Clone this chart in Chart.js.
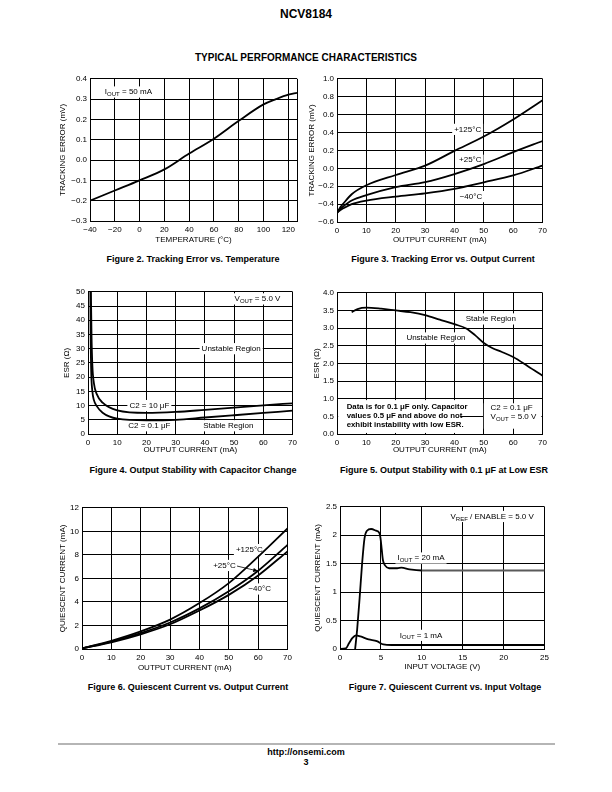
<!DOCTYPE html>
<html>
<head>
<meta charset="utf-8">
<script src="https://cdn.jsdelivr.net/npm/chart.js@4.4.0/dist/chart.umd.min.js"></script>
<style>
  body { margin: 0; background: #fff; width: 612px; height: 792px; position: relative; overflow: hidden;
         font-family: "Liberation Sans", Arial, sans-serif; }
  .t { position: absolute; font-weight: bold; white-space: nowrap; transform: translate(-50%, -50%); color: #000; }
  canvas { position: absolute; }
  .rule { position: absolute; left: 58px; top: 743px; width: 497px; height: 1.5px; background: #b5b5b5; }
</style>
</head>
<body>
<div class="t" style="left:306px;top:14px;font-size:12px">NCV8184</div>
<div class="t" style="left:306px;top:57px;font-size:10px">TYPICAL PERFORMANCE CHARACTERISTICS</div>
<div class="t" style="left:193px;top:259px;font-size:9px">Figure 2. Tracking Error vs. Temperature</div>
<div class="t" style="left:443px;top:259px;font-size:9px">Figure 3. Tracking Error vs. Output Current</div>
<div class="t" style="left:193px;top:470px;font-size:9px">Figure 4. Output Stability with Capacitor Change</div>
<div class="t" style="left:444px;top:470px;font-size:9px">Figure 5. Output Stability with 0.1 μF at Low ESR</div>
<div class="t" style="left:188px;top:687px;font-size:9px">Figure 6. Quiescent Current vs. Output Current</div>
<div class="t" style="left:445px;top:687px;font-size:9px">Figure 7. Quiescent Current vs. Input Voltage</div>
<div class="rule"></div>
<div class="t" style="left:306px;top:752px;font-size:9px">http://onsemi.com</div>
<div class="t" style="left:306px;top:762px;font-size:9px">3</div>

<script>
// Figure 2 - tracking error vs temperature
const f2Temp = [-40, -20, 0, 20, 40, 60, 80, 100, 110, 120, 127];
const f2Err  = [-0.2, -0.15, -0.1, -0.046, 0.032, 0.105, 0.193, 0.274, 0.3, 0.322, 0.331];
const f2TempTicks = [-40, -20, 0, 20, 40, 60, 80, 100, 120, 127];

// Figure 3 - tracking error vs output current
const f3Cur   = [0, 1, 2, 5, 10, 20, 30, 40, 50, 60, 70];
const f3T125  = [-0.5, -0.44, -0.4, -0.29, -0.19, -0.075, 0.03, 0.195, 0.355, 0.545, 0.76];
const f3T25   = [-0.5, -0.46, -0.43, -0.36, -0.3, -0.21, -0.155, -0.064, 0.047, 0.18, 0.305];
const f3Tm40  = [-0.49, -0.47, -0.45, -0.4, -0.36, -0.316, -0.28, -0.23, -0.157, -0.08, 0.03];

// Figure 4 - ESR stability
const f4Cur10  = [1.0, 1.2, 1.5, 2, 3, 5, 10, 20, 30, 40, 50, 60, 70];
const f4Esr10  = [50, 35, 24, 18, 14, 11, 8.3, 7.4, 7.75, 8.5, 9.3, 10.1, 10.8];
const f4Cur01  = [0.8, 0.9, 1.1, 1.5, 2, 3, 5, 10, 20, 30, 40, 50, 60, 70];
const f4Esr01  = [50, 35, 22, 15, 12, 9.8, 7.5, 5.4, 4.8, 5.0, 5.8, 6.6, 7.4, 8.2];

// Figure 5 - low ESR stability
const f5Cur = [5, 7, 10, 15, 20, 25, 30, 35, 40, 44, 47, 50, 53, 56, 60, 65, 70];
const f5Esr = [3.45, 3.54, 3.58, 3.55, 3.5, 3.45, 3.37, 3.24, 3.11, 2.99, 2.8, 2.58, 2.43, 2.33, 2.18, 1.92, 1.65];

// Figure 6 - quiescent current vs output current
const f6Cur   = [0, 10, 20, 30, 40, 50, 60, 70];
const f6T125  = [0.05, 0.7, 1.5, 2.5, 3.9, 5.6, 7.85, 10.25];
const f6T25   = [0.05, 0.62, 1.35, 2.25, 3.45, 4.9, 6.65, 8.85];
const f6Tm40  = [0.05, 0.57, 1.25, 2.1, 3.27, 4.6, 6.25, 8.3];

// Figure 7 - quiescent current vs input voltage
const f7Vin20 = [1.85, 2.1, 2.4, 2.7, 3.0, 3.3, 3.8, 4.4, 4.8, 4.95, 5.1, 5.25, 5.5, 6, 7, 7.5, 8.5, 10, 25];
const f7Iq20  = [0, 0.35, 0.9, 1.5, 1.95, 2.08, 2.11, 2.08, 2.04, 1.95, 1.75, 1.56, 1.47, 1.42, 1.42, 1.43, 1.4, 1.38, 1.38];
const f7Vin1  = [0, 0.7, 1.1, 1.5, 1.95, 2.5, 3.5, 4.5, 5.3, 6.3, 25];
const f7Iq1   = [0, 0.01, 0.1, 0.19, 0.24, 0.22, 0.17, 0.14, 0.08, 0.07, 0.07];

const FS = 8;
Chart.defaults.font.family = '"Liberation Sans", Arial, sans-serif';
Chart.defaults.font.size = FS;
Chart.defaults.color = '#000';

const FONT = '"Liberation Sans", Arial, sans-serif';
const pts = (xa, ya) => xa.map((x, i) => ({ x: x, y: ya[i] }));
const num = d => v => {
    if (Math.abs(v) < 1e-9) v = 0;
    return (v < 0 ? '\u2212' : '') + Math.abs(v).toFixed(d);
};

// text with _{sub} parts, drawn at a pixel position
function richText(ctx, x, y, str, o) {
    const size = o.size || FS;
    const w8 = o.bold ? 'bold ' : '';
    const parts = str.split(/_\{([^}]*)\}/);
    let total = 0;
    const segs = parts.map((t, i) => {
        const sub = i % 2 === 1;
        ctx.font = w8 + (sub ? size * 0.75 : size) + 'px ' + FONT;
        const w = ctx.measureText(t).width;
        total += w;
        return { t: t, sub: sub, w: w };
    });
    let x0 = o.align === 'left' ? x : x - total / 2;
    if (o.bg) {
        ctx.fillStyle = '#fff';
        ctx.fillRect(x0 - 2, y - size * 0.7, total + 4, size * 1.4);
    }
    ctx.fillStyle = '#000';
    ctx.textBaseline = 'middle';
    ctx.textAlign = 'left';
    segs.forEach(s => {
        ctx.font = w8 + (s.sub ? size * 0.75 : size) + 'px ' + FONT;
        ctx.fillText(s.t, x0, s.sub ? y + size * 0.3 : y);
        x0 += s.w;
    });
}

function notesPlugin(notes, titles) {
    return {
        id: 'notes',
        beforeDatasetsDraw(chart) {
            const ctx = chart.ctx, sx = chart.scales.x, sy = chart.scales.y;
            ctx.save();
            (notes.boxes || []).forEach(b => {
                const x0 = sx.getPixelForValue(b[0]), x1 = sx.getPixelForValue(b[2]);
                const y0 = sy.getPixelForValue(b[1]), y1 = sy.getPixelForValue(b[3]);
                ctx.fillStyle = '#fff';
                ctx.fillRect(x0, y1, x1 - x0, y0 - y1);
            });
            (notes.items || []).forEach(n => {
                richText(ctx, sx.getPixelForValue(n.x), sy.getPixelForValue(n.y), n.t, n);
            });
            ctx.restore();
        },
        afterDatasetsDraw(chart) {
            const ctx = chart.ctx, sx = chart.scales.x, sy = chart.scales.y;
            ctx.save();
            (notes.arrows || []).forEach(a => {
                const x0 = sx.getPixelForValue(a[0]), y0 = sy.getPixelForValue(a[1]);
                const x1 = sx.getPixelForValue(a[2]), y1 = sy.getPixelForValue(a[3]);
                const ang = Math.atan2(y1 - y0, x1 - x0);
                ctx.strokeStyle = '#000';
                ctx.lineWidth = 0.8;
                ctx.beginPath();
                ctx.moveTo(x0, y0);
                ctx.lineTo(x1 - 4 * Math.cos(ang), y1 - 4 * Math.sin(ang));
                ctx.stroke();
                ctx.fillStyle = '#000';
                ctx.beginPath();
                ctx.moveTo(x1, y1);
                ctx.lineTo(x1 - 5 * Math.cos(ang) + 2 * Math.sin(ang), y1 - 5 * Math.sin(ang) - 2 * Math.cos(ang));
                ctx.lineTo(x1 - 5 * Math.cos(ang) - 2 * Math.sin(ang), y1 - 5 * Math.sin(ang) + 2 * Math.cos(ang));
                ctx.closePath();
                ctx.fill();
            });
            ctx.restore();
        },
        // axis titles, placed from the chart area
        afterDraw(chart) {
            const ctx = chart.ctx, a = chart.chartArea;
            ctx.save();
            ctx.font = FS + 'px ' + FONT;
            ctx.fillStyle = '#000';
            ctx.textAlign = 'center';
            ctx.textBaseline = 'middle';
            ctx.fillText(titles.x, (a.left + a.right) / 2, a.bottom + titles.dy);
            ctx.translate(a.left - titles.dx, (a.top + a.bottom) / 2);
            ctx.rotate(-Math.PI / 2);
            ctx.fillText(titles.y, 0, 0);
            ctx.restore();
        }
    };
}

function axis(a, size, dir) {
    return {
        type: 'linear',
        min: a.min,
        max: a.max,
        afterFit: s => { if (dir === 'x') s.height = size; else s.width = size; },
        afterBuildTicks: a.ticks ? s => { s.ticks = a.ticks.map(v => ({ value: v })); } : undefined,
        grid: { color: '#000', lineWidth: 1, drawTicks: false },
        border: { color: '#000', width: 1 },
        ticks: {
            stepSize: a.step,
            padding: dir === 'x' ? 4 : 3,
            autoSkip: false,
            maxRotation: 0,
            font: { size: FS },
            callback: a.fmt
        },
        title: { display: false }
    };
}

function makeChart(box, xa, ya, datasets, notes) {
    const padT = 6, padR = 8;
    const yw = box.dx + 8, xh = box.dy + 8;
    const c = document.createElement('canvas');
    const w = box.r - box.l + yw + padR;
    const h = box.b - box.t + padT + xh;
    c.width = w;
    c.height = h;
    c.style.left = (box.l - yw) + 'px';
    c.style.top = (box.t - padT) + 'px';
    c.style.width = w + 'px';
    c.style.height = h + 'px';
    document.body.appendChild(c);

    new Chart(c, {
        type: 'line',
        data: { datasets: datasets },
        plugins: [notesPlugin(notes || {}, { x: xa.title, y: ya.title, dx: box.dx, dy: box.dy })],
        options: {
            responsive: false,
            animation: false,
            layout: { padding: { top: padT, right: padR, left: 0, bottom: 0 } },
            plugins: { legend: { display: false }, tooltip: { enabled: false } },
            elements: {
                point: { radius: 0 },
                line: { borderWidth: 1.8, borderColor: '#000', cubicInterpolationMode: 'monotone', fill: false }
            },
            scales: { x: axis(xa, xh, 'x'), y: axis(ya, yw, 'y') }
        }
    });
}

const curAxis = { min: 0, max: 70, step: 10, title: 'OUTPUT CURRENT (mA)', fmt: num(0) };
// flat tail of the input-voltage curves prints lighter in the reference
const greyTail = { borderColor: c => (c.p0.parsed.x >= 9 ? '#5a5a5a' : '#000') };

// Figure 2
makeChart({ l: 90, r: 297, t: 77, b: 221, dx: 27, dy: 19 },
    { min: -40, max: 127, ticks: f2TempTicks, title: 'TEMPERATURE (\u00B0C)',
      fmt: v => (v % 20 === 0 ? num(0)(v) : '') },
    { min: -0.3, max: 0.4, step: 0.1, title: 'TRACKING ERROR (mV)', fmt: num(1) },
    [{ data: pts(f2Temp, f2Err) }],
    { items: [{ x: -28, y: 0.335, t: 'I_{OUT} = 50 mA', align: 'left', bg: true }] });

// Figure 3
makeChart({ l: 337, r: 543, t: 77, b: 222, dx: 25, dy: 18 },
    curAxis,
    { min: -0.6, max: 1.0, step: 0.2, title: 'TRACKING ERROR (mV)', fmt: num(1) },
    [{ data: pts(f3Cur, f3T125) }, { data: pts(f3Cur, f3T25) }, { data: pts(f3Cur, f3Tm40) }],
    { items: [
        { x: 44.5, y: 0.435, t: '+125\u00B0C', bg: true },
        { x: 45.4, y: 0.09, t: '+25\u00B0C', bg: true },
        { x: 45.6, y: -0.316, t: '\u221240\u00B0C', bg: true }
    ] });

// Figure 4
makeChart({ l: 88, r: 293, t: 290, b: 434, dx: 21, dy: 16 },
    curAxis,
    { min: 0, max: 50, step: 5, title: 'ESR (\u03A9)', fmt: num(0) },
    [{ data: pts(f4Cur10, f4Esr10) }, { data: pts(f4Cur01, f4Esr01) }],
    { items: [
        { x: 58, y: 47.5, t: 'V_{OUT} = 5.0 V', bg: true },
        { x: 49, y: 30, t: 'Unstable Region', bg: true },
        { x: 21, y: 10, t: 'C2 = 10 \u03BCF', bg: true },
        { x: 21, y: 2.9, t: 'C2 = 0.1 \u03BCF', bg: true },
        { x: 48, y: 2.9, t: 'Stable Region', bg: true }
    ] });

// Figure 5
makeChart({ l: 337, r: 543, t: 291, b: 434, dx: 20, dy: 16 },
    curAxis,
    { min: 0, max: 4, step: 0.5, title: 'ESR (\u03A9)', fmt: num(1) },
    [{ data: pts(f5Cur, f5Esr) }],
    { boxes: [[0.4, 0.03, 42, 0.96], [50, 0.15, 69.6, 0.87]],
      items: [
        { x: 52.4, y: 3.26, t: 'Stable Region', bg: true },
        { x: 33.7, y: 2.72, t: 'Unstable Region', bg: true },
        { x: 3.3, y: 0.77, t: 'Data is for 0.1 \u03BCF only. Capacitor', align: 'left', bold: true, size: 7.8 },
        { x: 3.3, y: 0.51, t: 'values 0.5 \u03BCF and above do not', align: 'left', bold: true, size: 7.8 },
        { x: 3.3, y: 0.26, t: 'exhibit instability with low ESR.', align: 'left', bold: true, size: 7.8 },
        { x: 52.3, y: 0.74, t: 'C2 = 0.1 \u03BCF', align: 'left' },
        { x: 52.3, y: 0.49, t: 'V_{OUT} = 5.0 V', align: 'left' }
    ] });

// Figure 6
makeChart({ l: 82, r: 288, t: 506, b: 649, dx: 19, dy: 19 },
    curAxis,
    { min: 0, max: 12, step: 2, title: 'QUIESCENT CURRENT (mA)', fmt: num(0) },
    [{ data: pts(f6Cur, f6T125) }, { data: pts(f6Cur, f6T25) }, { data: pts(f6Cur, f6Tm40) }],
    { items: [
        { x: 57, y: 8.45, t: '+125\u00B0C', bg: true },
        { x: 48.5, y: 7.1, t: '+25\u00B0C', bg: true },
        { x: 60.5, y: 5.1, t: '\u221240\u00B0C', bg: true }
      ],
      arrows: [[52.8, 7.05, 60, 6.62]] });

// Figure 7
makeChart({ l: 340, r: 545, t: 505, b: 649, dx: 22, dy: 18 },
    { min: 0, max: 25, step: 5, title: 'INPUT VOLTAGE (V)', fmt: num(0) },
    { min: 0, max: 2.5, step: 0.5, title: 'QUIESCENT CURRENT (mA)', fmt: v => String(+v.toFixed(1)) },
    [{ data: pts(f7Vin20, f7Iq20), segment: greyTail }, { data: pts(f7Vin1, f7Iq1), segment: greyTail }],
    { items: [
        { x: 18.6, y: 2.33, t: 'V_{REF} / ENABLE = 5.0 V', bg: true },
        { x: 9.9, y: 1.6, t: 'I_{OUT} = 20 mA', bg: true },
        { x: 9.9, y: 0.24, t: 'I_{OUT} = 1 mA', bg: true }
    ] });
</script>
</body>
</html>
